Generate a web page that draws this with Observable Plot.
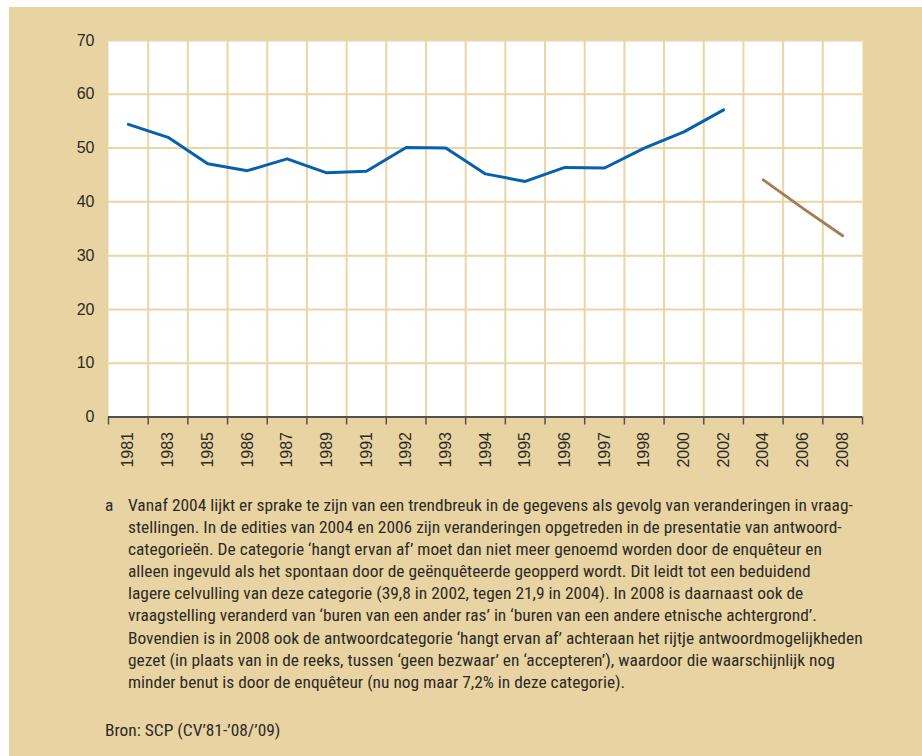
<!DOCTYPE html>
<html>
<head>
<meta charset="utf-8">
<script src="https://cdn.jsdelivr.net/npm/d3@7"></script>
<script src="https://cdn.jsdelivr.net/npm/@observablehq/plot@0.6"></script>
<style>
  html, body { margin: 0; padding: 0; background: #ffffff; }
  #box {
    position: absolute; left: 9px; top: 7px; width: 913px; height: 749px;
    background: #e8d3a2; overflow: hidden;
  }
  #chart svg { display: block; }
  #notes {
    position: absolute; left: 96px; top: 487px; width: 810px;
    font-family: "Liberation Sans Narrow", "Roboto Condensed", "Liberation Sans", sans-serif;
    font-size: 17.4px; color: #2e2a25; line-height: 22.1px;
  }
  .fn { display: flex; white-space: nowrap; }
  .fn .lab { width: 23px; flex: none; }
  .src { margin-top: 26px; }
</style>
</head>
<body>
<div id="box">
  <div id="chart"></div>
  <div id="notes"></div>
</div>
<script>
const years = ["1981","1983","1985","1986","1987","1989","1991","1992","1993","1994","1995","1996","1997","1998","2000","2002","2004","2006","2008"];
const blueYears = ["1981","1983","1985","1986","1987","1989","1991","1992","1993","1994","1995","1996","1997","1998","2000","2002"];
const blueValues = [54.4, 52.0, 47.1, 45.8, 48.0, 45.4, 45.7, 50.1, 50.0, 45.2, 43.8, 46.4, 46.3, 50.0, 53.0, 57.1];
const brownYears = ["2004","2006","2008"];
const brownValues = [44.1, 38.8, 33.7];
const yTicks = [0, 10, 20, 30, 40, 50, 60, 70];

const footnoteLines = [
  "Vanaf 2004 lijkt er sprake te zijn van een trendbreuk in de gegevens als gevolg van veranderingen in vraag-",
  "stellingen. In de edities van 2004 en 2006 zijn veranderingen opgetreden in de presentatie van antwoord-",
  "categorieën. De categorie ‘hangt ervan af’ moet dan niet meer genoemd worden door de enquêteur en",
  "alleen ingevuld als het spontaan door de geënquêteerde geopperd wordt. Dit leidt tot een beduidend",
  "lagere celvulling van deze categorie (39,8 in 2002, tegen 21,9 in 2004). In 2008 is daarnaast ook de",
  "vraagstelling veranderd van ‘buren van een ander ras’ in ‘buren van een andere etnische achtergrond’.",
  "Bovendien is in 2008 ook de antwoordcategorie ‘hangt ervan af’ achteraan het rijtje antwoordmogelijkheden",
  "gezet (in plaats van in de reeks, tussen ‘geen bezwaar’ en ‘accepteren’), waardoor die waarschijnlijk nog",
  "minder benut is door de enquêteur (nu nog maar 7,2% in deze categorie)."
];
const sourceText = "Bron: SCP (CV’81-’08/’09)";

const idx = y => years.indexOf(y);
const blueData = blueYears.map((y, i) => ({x: idx(y), v: blueValues[i]}));
const brownData = brownYears.map((y, i) => ({x: idx(y), v: brownValues[i]}));
const centers = years.map((y, i) => i);
const bounds = years.map((y, i) => i - 0.5).concat([years.length - 0.5]);

const grid = "#e9d5a5";
const axisCol = "#55504a";
const textCol = "#2e2a25";

const chart = Plot.plot({
  width: 913,
  height: 480,
  marginLeft: 99,
  marginRight: 60,
  marginTop: 33,
  marginBottom: 70.5,
  style: {background: "transparent", fontFamily: "'Liberation Sans', Arial, sans-serif", color: textCol},
  x: {type: "linear", domain: [-0.5, years.length - 0.5], axis: null, label: null},
  y: {domain: [0, 70], axis: null, label: null},
  marks: [
    Plot.frame({fill: "white", stroke: null}),
    Plot.gridY(yTicks, {stroke: grid, strokeOpacity: 1, strokeWidth: 2}),
    Plot.gridX(bounds.slice(1, -1), {stroke: grid, strokeOpacity: 1, strokeWidth: 2}),
    Plot.axisY(yTicks, {tickSize: 0, tickPadding: 14, fontSize: 16, fill: textCol, label: null}),
    Plot.axisX(bounds, {tickSize: 8, stroke: axisCol, strokeWidth: 1.5, tickFormat: () => "", label: null}),
    Plot.ruleY([0], {stroke: axisCol, strokeWidth: 2}),
    Plot.axisX(centers, {tickSize: 0, tickPadding: 15, tickRotate: -90, fontSize: 16, fill: textCol, tickFormat: i => years[i], label: null}),
    Plot.line(blueData, {x: "x", y: "v", stroke: "#0760ac", strokeWidth: 3}),
    Plot.line(brownData, {x: "x", y: "v", stroke: "#a57c55", strokeWidth: 2.8})
  ]
});
document.getElementById("chart").appendChild(chart);

const notes = document.getElementById("notes");
footnoteLines.forEach((t, i) => {
  const d = document.createElement("div");
  d.className = "fn";
  const a = document.createElement("span");
  a.className = "lab";
  a.textContent = i === 0 ? "a" : "";
  const b = document.createElement("span");
  b.textContent = t;
  d.appendChild(a); d.appendChild(b);
  notes.appendChild(d);
});
const s = document.createElement("div");
s.className = "src";
s.textContent = sourceText;
notes.appendChild(s);
</script>
</body>
</html>
